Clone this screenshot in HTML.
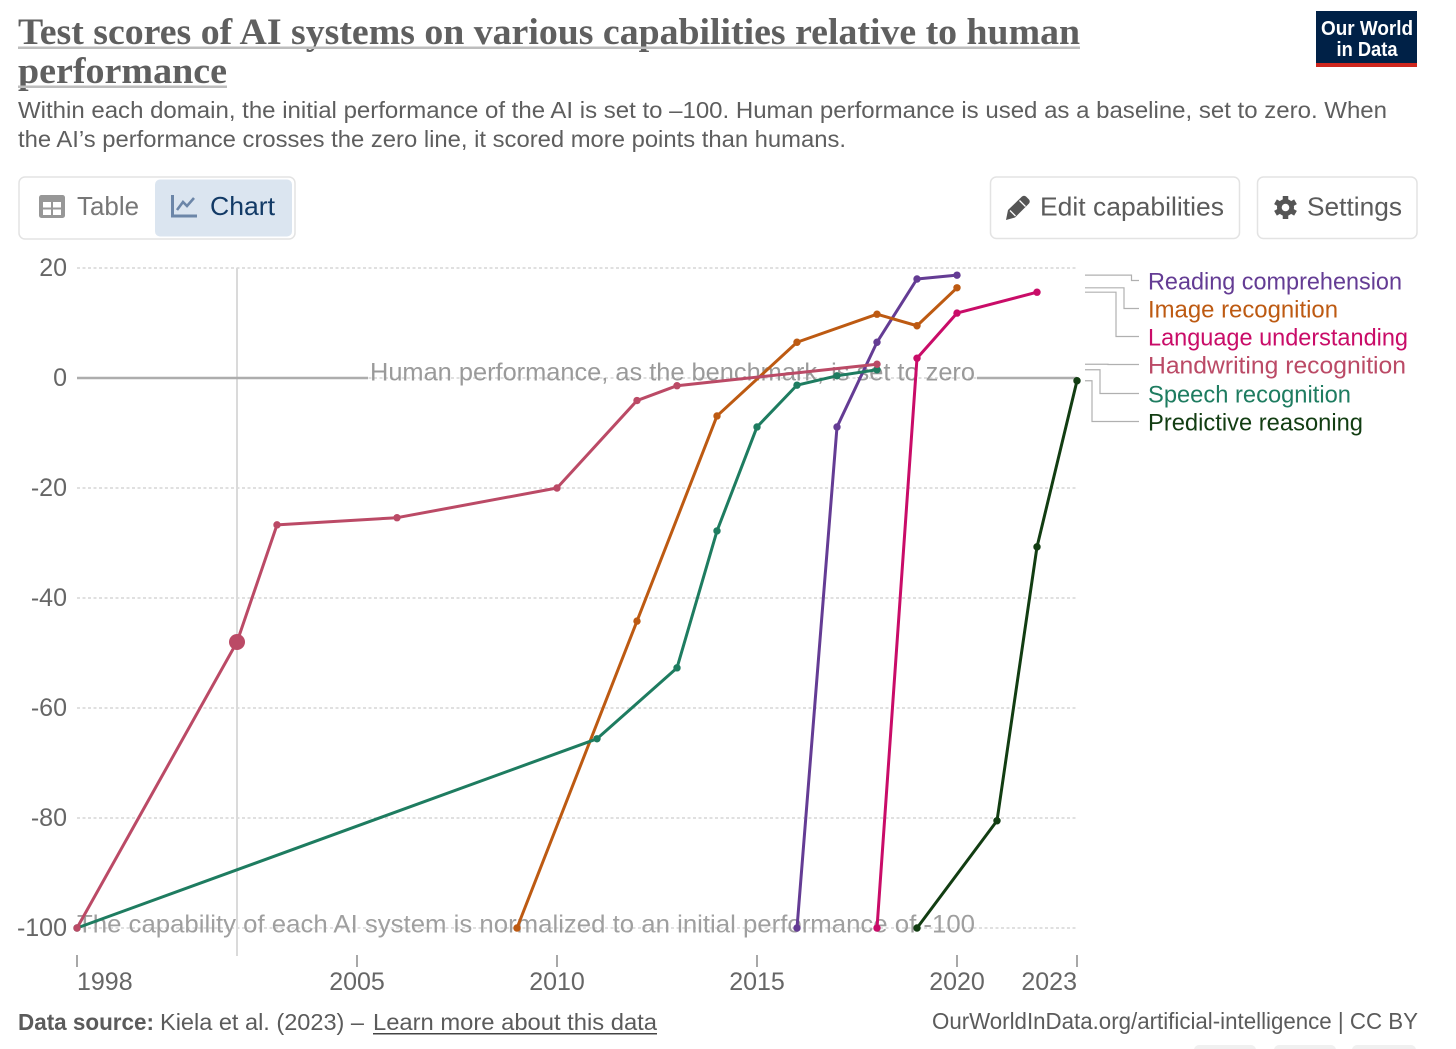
<!DOCTYPE html>
<html lang="en">
<head>
<meta charset="utf-8">
<title>Test scores of AI systems on various capabilities relative to human performance</title>
<style>
html,body{margin:0;padding:0;background:#fff;width:1456px;height:1049px;overflow:hidden}
svg{display:block;font-family:"Liberation Sans",sans-serif}
text{white-space:pre}
</style>
</head>
<body>
<svg id="page" xmlns="http://www.w3.org/2000/svg" width="1456" height="1049" viewBox="0 0 1456 1049">
  <g>
    <text x="18" y="44" font-family="'Liberation Serif',serif" font-weight="700" font-size="37" fill="#5f5f5f" textLength="1062" lengthAdjust="spacingAndGlyphs">Test scores of AI systems on various capabilities relative to human</text>
    <rect x="18" y="46.500" width="1062" height="2.500" fill="#bdbdbd"/>
    <text x="18" y="83" font-family="'Liberation Serif',serif" font-weight="700" font-size="37" fill="#5f5f5f" textLength="209" lengthAdjust="spacingAndGlyphs">performance</text>
    <rect x="18" y="85.500" width="209" height="2.500" fill="#bdbdbd"/>
  </g>
  <g font-size="23.5" fill="#5e5e5e">
    <text x="18" y="118" textLength="1369" lengthAdjust="spacingAndGlyphs">Within each domain, the initial performance of the AI is set to –100. Human performance is used as a baseline, set to zero. When</text>
    <text x="18" y="147" textLength="828" lengthAdjust="spacingAndGlyphs">the AI’s performance crosses the zero line, it scored more points than humans.</text>
  </g>
  <g>
    <rect x="1316" y="11" width="101" height="56" fill="#002147"/>
    <rect x="1316" y="63" width="101" height="4" fill="#ce261e"/>
    <text x="1367" y="35" text-anchor="middle" font-size="20.500" font-weight="700" fill="#fff" textLength="92" lengthAdjust="spacingAndGlyphs">Our World</text>
    <text x="1367" y="56" text-anchor="middle" font-size="20.500" font-weight="700" fill="#fff" textLength="61" lengthAdjust="spacingAndGlyphs">in Data</text>
  </g>

  <g>
    <rect x="19" y="177" width="276" height="62" rx="6" fill="#fff" stroke="#e3e3e3" stroke-width="1.500"/>
    <g>
      <g>
        <rect x="39" y="195" width="26" height="23" rx="2.500" fill="#979797"/>
        <rect x="43" y="202" width="8" height="5.500" fill="#fff"/><rect x="53" y="202" width="8" height="5.500" fill="#fff"/>
        <rect x="43" y="209.500" width="8" height="5.500" fill="#fff"/><rect x="53" y="209.500" width="8" height="5.500" fill="#fff"/>
      </g>
      <text x="77" y="215" font-size="26" fill="#777" textLength="62" lengthAdjust="spacingAndGlyphs">Table</text>
    </g>
    <g>
      <rect x="155" y="179.500" width="137" height="57" rx="5" fill="#dbe5f0"/>
      <path d="M172.500 195V216H197" fill="none" stroke="#6c86a8" stroke-width="3"/>
      <path d="M177 210L183 202L187 206L194 198" fill="none" stroke="#6c86a8" stroke-width="2.600"/>
      <text x="210" y="215" font-size="26" fill="#123a66" textLength="65" lengthAdjust="spacingAndGlyphs">Chart</text>
    </g>
  </g>
  <g>
    <rect x="990.500" y="177" width="249" height="61.500" rx="6" fill="#fff" stroke="#e3e3e3" stroke-width="1.500"/>
    <path d="M1006 220L1008 210L1022 196.500Q1024 195 1026 196.500L1029 199.500Q1030.500 201.500 1029 203.500L1015 217.500Z" fill="#555"/>
    <path d="M1010 210.500L1015.500 216M1019.500 200.500L1025.500 206.500" stroke="#fff" stroke-width="1.300"/>
    <text x="1040" y="215.500" font-size="26" fill="#5b5b5b" textLength="184" lengthAdjust="spacingAndGlyphs">Edit capabilities</text>
  </g>
  <g>
    <rect x="1257.500" y="177" width="159.500" height="61.500" rx="6" fill="#fff" stroke="#e3e3e3" stroke-width="1.500"/>
    <g>
      <circle cx="1285.500" cy="207.500" r="8.500" fill="#555"/>
      <g stroke="#555" stroke-width="5.500">
        <path d="M1285.500 196V219"/>
        <path d="M1275.500 201.750L1295.500 213.250"/>
        <path d="M1275.500 213.250L1295.500 201.750"/>
      </g>
      <circle cx="1285.500" cy="207.500" r="3.800" fill="#fff"/>
    </g>
    <text x="1307" y="215.500" font-size="26" fill="#5b5b5b" textLength="95" lengthAdjust="spacingAndGlyphs">Settings</text>
  </g>

  <g id="y-axis"></g>
  <line x1="237" x2="237" y1="268" y2="956" stroke="#dadada" stroke-width="2"/>
  <g id="zero-annotation">
    <text x="370" y="380.500" font-size="25" fill="#9a9a9a" textLength="605" lengthAdjust="spacingAndGlyphs">Human performance, as the benchmark, is set to zero</text>
  </g>
  <g>
    <text x="77" y="932.500" font-size="25" fill="#9f9f9f" textLength="898" lengthAdjust="spacingAndGlyphs">The capability of each AI system is normalized to an initial performance of -100</text>
  </g>
  <g id="x-axis"></g>
  <g id="series"></g>
  <g id="legend"></g>

  <g font-size="23" fill="#5b5b5b">
    <text x="18" y="1030" font-weight="700" textLength="136" lengthAdjust="spacingAndGlyphs">Data source:</text>
    <text x="160" y="1030" textLength="204" lengthAdjust="spacingAndGlyphs">Kiela et al. (2023) –</text>
    <g>
      <text x="373" y="1030" textLength="284" lengthAdjust="spacingAndGlyphs">Learn more about this data</text>
      <rect x="373" y="1033" width="284" height="1.500" fill="#444"/>
    </g>
  </g>
  <text x="932" y="1029" font-size="23" fill="#5b5b5b" textLength="486" lengthAdjust="spacingAndGlyphs">OurWorldInData.org/artificial-intelligence | CC BY</text>
  <g fill="#f0f0f0">
    <rect x="1194" y="1045" width="62" height="12" rx="5"/>
    <rect x="1274" y="1045" width="62" height="12" rx="5"/>
    <rect x="1352" y="1045" width="64" height="12" rx="5"/>
  </g>
</svg>
<script>
const yTicks = [20, 0, -20, -40, -60, -80, -100];
const xTicks = [1998, 2005, 2010, 2015, 2020, 2023];

const predictiveYears = [2019, 2021, 2022, 2023];
const predictiveValues = [-100, -80.5, -30.7, -0.5];
const languageYears = [2018, 2019, 2020, 2022];
const languageValues = [-100, 3.6, 11.8, 15.6];
const readingYears = [2016, 2017, 2018, 2019, 2020];
const readingValues = [-100, -8.9, 6.5, 18, 18.7];
const imageYears = [2009, 2012, 2014, 2016, 2018, 2019, 2020];
const imageValues = [-100, -44.2, -6.9, 6.5, 11.6, 9.5, 16.4];
const speechYears = [1998, 2011, 2013, 2014, 2015, 2016, 2017, 2018];
const speechValues = [-100, -65.6, -52.7, -27.8, -8.9, -1.3, 0.4, 1.5];
const handwritingYears = [1998, 2002, 2003, 2006, 2010, 2012, 2013, 2018];
const handwritingValues = [-100, -48, -26.7, -25.4, -20, -4.1, -1.4, 2.5];
const hoverYear = 2002;

const NS = 'http://www.w3.org/2000/svg';
function xScale(year) { return 77 + (year - 1998) * 40; }
function yScale(value) { return 378 - value * 5.5; }
function make(tag, attrs, parent, text) {
  const el = document.createElementNS(NS, tag);
  for (const k in attrs) el.setAttribute(k, attrs[k]);
  if (text !== undefined) el.textContent = text;
  parent.appendChild(el);
  return el;
}

const yAxis = document.getElementById('y-axis');
yTicks.forEach(function (tick) {
  const y = yScale(tick);
  const grid = make('line', { x1: 77, x2: 1077, y1: y, y2: y, stroke: '#d6d6d6', 'stroke-width': 1.5, 'stroke-dasharray': '3 2.5' }, yAxis);
  
  
  const label = make('text', { x: 67, y: y + 8, 'text-anchor': 'end', 'font-size': 25, fill: '#666' }, yAxis, String(tick));
  
  
});

const zeroY = yScale(0);
const zeroAnnotation = document.getElementById('zero-annotation');
const zeroLeft = make('line', { x1: 77, x2: 368, y1: zeroY, y2: zeroY, stroke: '#adadad', 'stroke-width': 2.4 }, zeroAnnotation);


const zeroRight = make('line', { x1: 977, x2: 1077, y1: zeroY, y2: zeroY, stroke: '#adadad', 'stroke-width': 2.4 }, zeroAnnotation);



const xAxis = document.getElementById('x-axis');
xTicks.forEach(function (tick, i) {
  const x = xScale(tick);
  const mark = make('line', { x1: x, x2: x, y1: 955, y2: 967, stroke: '#8a8a8a', 'stroke-width': 1.5 }, xAxis);
  
  
  const anchor = i === 0 ? 'start' : (i === xTicks.length - 1 ? 'end' : 'middle');
  const label = make('text', { x: x, y: 990, 'text-anchor': anchor, 'font-size': 25, fill: '#666' }, xAxis, String(tick));
  
  
});

const seriesLayer = document.getElementById('series');
function drawSeries(name, years, values, color) {
  const group = make('g', {}, seriesLayer);
  
  
  const pts = years.map(function (yr, i) { return xScale(yr) + ',' + yScale(values[i]); }).join(' ');
  const line = make('polyline', { points: pts, fill: 'none', stroke: color, 'stroke-width': 3, 'stroke-linejoin': 'round' }, group);
  
  
  years.forEach(function (yr, i) {
    const hover = yr === hoverYear;
    const dot = make('circle', { cx: xScale(yr), cy: yScale(values[i]), r: hover ? 8 : 3.7, fill: color }, group);
    
    
  });
}
drawSeries('predictive-reasoning', predictiveYears, predictiveValues, '#123d12');
drawSeries('language-understanding', languageYears, languageValues, '#c90c68');
drawSeries('reading-comprehension', readingYears, readingValues, '#643c94');
drawSeries('image-recognition', imageYears, imageValues, '#bd5a12');
drawSeries('speech-recognition', speechYears, speechValues, '#1e7c60');
drawSeries('handwriting-recognition', handwritingYears, handwritingValues, '#bb4a66');

const legendLayer = document.getElementById('legend');
function drawLegendEntry(name, label, values, color, textY, textWidth, elbowX) {
  const group = make('g', {}, legendLayer);
  
  
  const startY = yScale(values[values.length - 1]);
  const midY = textY - 9;
  const connector = make('path', { d: 'M1085 ' + startY + 'H' + elbowX + 'V' + midY + 'H1139', fill: 'none', stroke: '#b0b0b0', 'stroke-width': 1.2 }, group);
  
  
  const text = make('text', { x: 1148, y: textY, 'font-size': 24, fill: color, textLength: textWidth, lengthAdjust: 'spacingAndGlyphs' }, group, label);
  
  
}
drawLegendEntry('reading-comprehension', 'Reading comprehension', readingValues, '#643c94', 289.5, 254, 1131.5);
drawLegendEntry('image-recognition', 'Image recognition', imageValues, '#bd5a12', 317.5, 190, 1124);
drawLegendEntry('language-understanding', 'Language understanding', languageValues, '#c90c68', 345.5, 260, 1116);
drawLegendEntry('handwriting-recognition', 'Handwriting recognition', handwritingValues, '#bb4a66', 373.5, 258, 1108);
drawLegendEntry('speech-recognition', 'Speech recognition', speechValues, '#1e7c60', 402.5, 203, 1100);
drawLegendEntry('predictive-reasoning', 'Predictive reasoning', predictiveValues, '#123d12', 430.5, 215, 1092);
</script>
</body>
</html>
